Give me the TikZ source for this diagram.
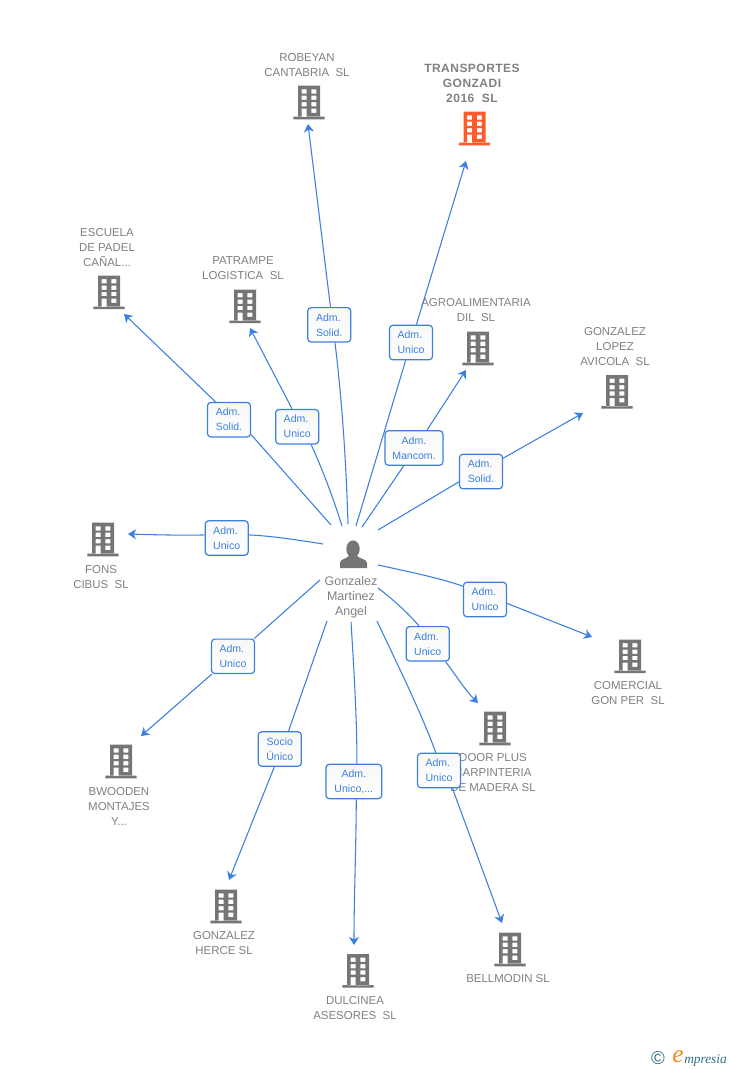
\documentclass[tikz,border=0pt]{standalone}
\usepackage{fontspec}
\setmainfont{Liberation Sans}
\newfontfamily\logofont{Liberation Serif}
\usetikzlibrary{arrows.meta}
\definecolor{linkblue}{HTML}{3B7FE0}
\definecolor{namegray}{HTML}{808080}
\definecolor{iconcolor}{HTML}{757575}
\definecolor{mainorange}{HTML}{FF5A2B}
\definecolor{logoteal}{HTML}{2F6F8A}
\definecolor{logoorange}{HTML}{F08A1D}
\tikzset{
compname/.style={align=center,inner sep=0pt,yshift=-0.5pt,text=namegray,font=\fontsize{8.6}{11.25}\selectfont},
relbox/.style={draw=linkblue,top color=black!3,bottom color=white,rounded corners=2.5pt,line width=0.9pt,minimum width=32.3pt,minimum height=25.8pt,inner sep=0pt,align=left,text=linkblue,font=\fontsize{7.9}{11.25}\selectfont},
link/.style={draw=linkblue,line width=0.8pt},
arrowend/.style={-{Stealth[length=6pt,width=7.5pt,inset=1.8pt]}},
building/.pic={
\path[pic actions,even odd rule] (-11,0) rectangle (11,31.5) (-15.7,31) rectangle (15.7,33.6)
(-7.3,3.6) rectangle (-2.3,7.9) (2.3,3.6) rectangle (7.3,7.9)
(-7.3,10) rectangle (-2.3,14.3) (2.3,10) rectangle (7.3,14.3)
(-7.3,16.4) rectangle (-2.3,20.7) (2.3,16.4) rectangle (7.3,20.7)
(-7.3,23) rectangle (-2.3,31) (2.3,23) rectangle (7.3,27.3);
}
}
\begin{document}
\begin{tikzpicture}[x=0.75pt,y=-0.75pt]
\useasboundingbox (0,0) rectangle (728,1070);

%Person in the middle
\fill[iconcolor] (353,549) ellipse (6.7 and 8.6);
\fill[iconcolor] (340,568) -- (340,563) .. controls (340,559) and (346,559) .. (349,556) -- (357,556) .. controls (360,559) and (367,559) .. (367,563) -- (367,568) -- cycle;
\node[compname,font=\fontsize{9.35}{11.25}\selectfont] (gonzalez) at (351,597) {Gonzalez\\Martinez\\Angel};

%Buildings
\pic[fill=iconcolor] at (309,85.7) {building};
\pic[fill=mainorange] at (474.5,111.7) {building};
\pic[fill=iconcolor] at (109,275.5) {building};
\pic[fill=iconcolor] at (245,289.5) {building};
\pic[fill=iconcolor] at (478,331.7) {building};
\pic[fill=iconcolor] at (617,375) {building};
\pic[fill=iconcolor] at (103,522.7) {building};
\pic[fill=iconcolor] at (630,639.5) {building};
\pic[fill=iconcolor] at (495,711.7) {building};
\pic[fill=iconcolor] at (121,744.7) {building};
\pic[fill=iconcolor] at (226,889.7) {building};
\pic[fill=iconcolor] at (358,954) {building};
\pic[fill=iconcolor] at (510,932.7) {building};

%Names of the companies
\node[compname] (robeyan) at (307,64.5) {ROBEYAN\\CANTABRIA\ \ SL};
\node[compname,font=\fontsize{9}{11.25}\selectfont\bfseries\addfontfeature{LetterSpace=4}] (transportes) at (472,83) {TRANSPORTES\\GONZADI\\2016\ \ SL};
\node[compname] (escuela) at (107,247) {ESCUELA\\DE PADEL\\CAÑAL...};
\node[compname] (patrampe) at (243,267.5) {PATRAMPE\\LOGISTICA\ \ SL};
\node[compname] (agro) at (476,309.5) {AGROALIMENTARIA\\DIL\ \ SL};
\node[compname] (lopez) at (615,346) {GONZALEZ\\LOPEZ\\AVICOLA\ \ SL};
\node[compname] (fons) at (101,576.5) {FONS\\CIBUS\ \ SL};
\node[compname] (comercial) at (628,692.5) {COMERCIAL\\GON PER\ \ SL};
\node[compname] (door) at (493,772) {DOOR PLUS\\CARPINTERIA\\DE MADERA SL};
\node[compname] (bwooden) at (119,806) {BWOODEN\\MONTAJES\\Y...};
\node[compname] (herce) at (224,942.5) {GONZALEZ\\HERCE SL};
\node[compname] (dulcinea) at (355,1007.5) {DULCINEA\\ASESORES\ \ SL};
\node[compname] (bellmodin) at (508,978) {BELLMODIN SL};

%Relation boxes
\node[relbox] (boxrobeyan) at (329.2,324.8) {Adm.\\Solid.};
\node[relbox] (boxtransportes) at (411,342.5) {Adm.\\Unico};
\node[relbox] (boxescuela) at (229,419.7) {Adm.\\Solid.};
\node[relbox] (boxpatrampe) at (297.2,426.7) {Adm.\\Unico};
\node[relbox,align=center,minimum width=43.5pt] (boxagro) at (414,448) {Adm.\\Mancom.};
\node[relbox] (boxlopez) at (481,471.5) {Adm.\\Solid.};
\node[relbox] (boxfons) at (226.7,538) {Adm.\\Unico};
\node[relbox] (boxcomercial) at (485,599.5) {Adm.\\Unico};
\node[relbox] (boxdoor) at (427.7,643.8) {Adm.\\Unico};
\node[relbox] (boxbwooden) at (233,656.3) {Adm.\\Unico};
\node[relbox,align=center] (boxherce) at (279.8,749) {Socio\\Único};
\node[relbox,align=center,minimum width=41.8pt] (boxdulcinea) at (353.8,781.5) {Adm.\\Unico,...};
\node[relbox] (boxbellmodin) at (439,770.5) {Adm.\\Unico};

%Ends of the connectors at the person
\coordinate (frobeyan) at (348,524);
\coordinate (ftransportes) at (356,526);
\coordinate (fescuela) at (331,525);
\coordinate (fpatrampe) at (342,526);
\coordinate (fagro) at (362,527);
\coordinate (flopez) at (378,530);
\coordinate (ffons) at (323,544);
\coordinate (fcomercial) at (378,565);
\coordinate (fdoor) at (378,588);
\coordinate (fbwooden) at (320,580);
\coordinate (fherce) at (327,621);
\coordinate (fdulcinea) at (351,622);
\coordinate (fbellmodin) at (377,621);

%Ends of the connectors at the companies
\coordinate (trobeyan) at (308,124);
\coordinate (ttransportes) at (466,161);
\coordinate (tescuela) at (124,314);
\coordinate (tpatrampe) at (250,328);
\coordinate (tagro) at (466,370);
\coordinate (tlopez) at (583,413);
\coordinate (tfons) at (128,534);
\coordinate (tcomercial) at (592,637);
\coordinate (tdoor) at (478,703);
\coordinate (tbwooden) at (141,736);
\coordinate (therce) at (229,880);
\coordinate (tdulcinea) at (354,945);
\coordinate (tbellmodin) at (502,923);

%Connectors
\draw[link] (frobeyan) .. controls (346,460) and (342,400) .. (boxrobeyan.-72);
\draw[link,arrowend] (boxrobeyan.86) -- (trobeyan);
\draw[link] (ftransportes) -- (boxtransportes);
\draw[link,arrowend] (boxtransportes) -- (ttransportes);
\draw[link] (fescuela) -- (boxescuela.-34);
\draw[link,arrowend] (boxescuela.127) -- (tescuela);
\draw[link] (fpatrampe) .. controls (334,500) and (322,468) .. (boxpatrampe.-52);
\draw[link,arrowend] (boxpatrampe.106) -- (tpatrampe);
\draw[link] (fagro) -- (boxagro.-120);
\draw[link,arrowend] (boxagro.54) -- (tagro);
\draw[link] (flopez) -- (boxlopez.-155);
\draw[link,arrowend] (boxlopez.31) -- (tlopez);
\draw[link] (ffons) .. controls (298,540) and (272,536) .. (boxfons.8);
\draw[link,arrowend] (boxfons.172) .. controls (190,535.5) and (160,535) .. (tfons);
\draw[link] (fcomercial) .. controls (410,572) and (440,578) .. (boxcomercial.149.5);
\draw[link,arrowend] (boxcomercial.-10) -- (tcomercial);
\draw[link] (fdoor) .. controls (395,601) and (408,613) .. (boxdoor.116);
\draw[link,arrowend] (boxdoor.-45) .. controls (455,674) and (465,690) .. (tdoor);
\draw[link] (fbwooden) -- (boxbwooden.40.4);
\draw[link,arrowend] (boxbwooden.-140) -- (tbwooden);
\draw[link] (fherce) -- (boxherce.64);
\draw[link,arrowend] (boxherce.-107.6) -- (therce);
\draw[link] (fdulcinea) .. controls (354,670) and (357,720) .. (boxdulcinea.80);
\draw[link,arrowend] (boxdulcinea.-82) .. controls (356,850) and (354,900) .. (tdulcinea);
\draw[link] (fbellmodin) .. controls (400,670) and (420,710) .. (boxbellmodin.100);
\draw[link,arrowend] (boxbellmodin.-53.6) -- (tbellmodin);

%Logo
\node[inner sep=0pt,text=logoteal,font=\fontsize{14}{14}\selectfont] (copyr) at (658,1058.5) {©};
\node[inner sep=0pt,text=logoorange,font=\fontsize{19}{19}\logofont\itshape] (logoe) at (678,1056.5) {e};
\node[inner sep=0pt,text=logoteal,font=\fontsize{10}{12}\logofont\itshape,anchor=west] (logotext) at (684,1060) {mpresia};
\end{tikzpicture}
\end{document}
